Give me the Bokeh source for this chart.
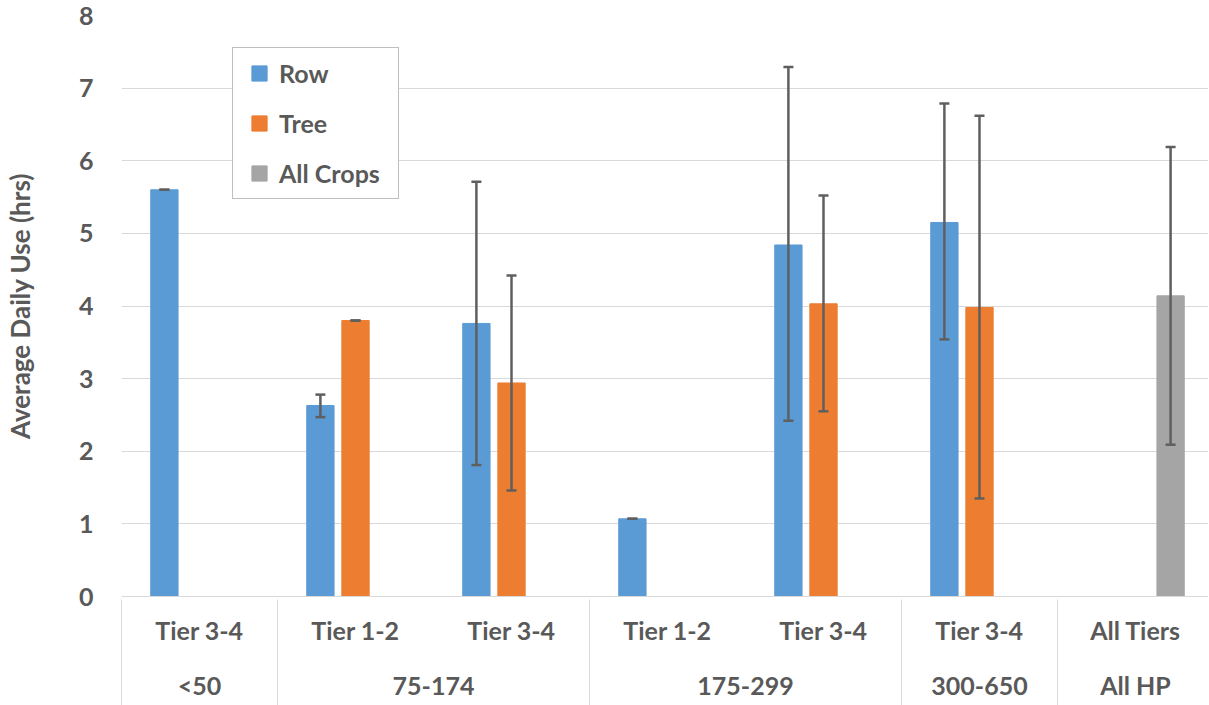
from bokeh.plotting import figure
from bokeh.models import (Range1d, LinearAxis, FixedTicker, ColumnDataSource,
                          Whisker, TeeHead, Legend, LegendItem)
from bokeh.embed import file_html
from bokeh.resources import INLINE

# ---------------- data ----------------
tiers = ["Tier 3-4", "Tier 1-2", "Tier 3-4", "Tier 1-2", "Tier 3-4", "Tier 3-4", "All Tiers"]
hp_groups = ["<50", "75-174", "175-299", "300-650", "All HP"]
group_sizes = [1, 2, 2, 1, 1]
y_ticks = [0, 1, 2, 3, 4, 5, 6, 7, 8]

series_names = ["Row", "Tree", "All Crops"]
row_mean = [5.60, 2.63, 3.76, 1.07, 4.84, 5.15, None]
row_low = [5.60, 2.47, 1.81, 1.07, 2.42, 3.54, None]
row_high = [5.60, 2.78, 5.71, 1.07, 7.29, 6.79, None]
tree_mean = [None, 3.80, 2.94, None, 4.03, 3.98, None]
tree_low = [None, 3.80, 1.46, None, 2.55, 1.35, None]
tree_high = [None, 3.80, 4.42, None, 5.52, 6.62, None]
all_mean = [None, None, None, None, None, None, 4.14]
all_low = [None, None, None, None, None, None, 2.09]
all_high = [None, None, None, None, None, None, 6.19]

colors = ["#5B9BD5", "#ED7D31", "#A5A5A5"]
offsets = [-0.225, 0.0, 0.225]
TXT = "#595959"
GRID = "#d9d9d9"
FONT = "Lato"

p = figure(frame_width=1087, frame_height=581,
           x_range=Range1d(0, 6.968), y_range=Range1d(0, 8),
           x_axis_location=None,
           output_backend="svg", toolbar_location=None,
           min_border_left=114, min_border_right=0,
           min_border_top=15, min_border_bottom=101)
p.outline_line_color = None
p.background_fill_color = "white"
p.border_fill_color = "white"
for g in p.grid:
    if g.dimension == 0:
        g.visible = False

# y axis
p.yaxis.ticker = FixedTicker(ticks=y_ticks)
p.yaxis.axis_line_color = None
p.yaxis.major_tick_line_color = None
p.yaxis.minor_tick_line_color = None
p.yaxis.major_tick_out = 0
p.yaxis.major_tick_in = 0
p.yaxis.major_label_standoff = 28
p.yaxis.major_label_text_font = FONT
p.yaxis.major_label_text_font_style = "bold"
p.yaxis.major_label_text_font_size = "25px"
p.yaxis.major_label_text_color = TXT
p.yaxis.axis_label = "Average Daily Use (hrs)"
p.yaxis.axis_label_text_font = FONT
p.yaxis.axis_label_text_font_style = "bold"
p.yaxis.axis_label_text_font_size = "26px"
p.yaxis.axis_label_text_color = TXT
p.yaxis.axis_label_standoff = 40
p.ygrid.grid_line_color = GRID
p.ygrid.grid_line_width = 1

# x axes (two levels)
n = len(tiers)
tier_pos = [i + 0.5 for i in range(n)]
bounds = [0]
for s in group_sizes:
    bounds.append(bounds[-1] + s)
group_pos = [(bounds[k] + bounds[k + 1]) / 2 for k in range(len(group_sizes))]
sep_pos = bounds[:-1]

ax1 = LinearAxis(ticker=FixedTicker(ticks=tier_pos, minor_ticks=[]),
                 major_label_overrides={t: lab for t, lab in zip(tier_pos, tiers)})
ax1.axis_line_color = GRID
ax1.axis_line_width = 1
ax1.major_tick_out = 0
ax1.major_tick_in = 0
ax1.minor_tick_out = 0
ax1.minor_tick_in = 0
ax1.major_tick_line_color = None
ax1.minor_tick_line_color = None
ax1.major_label_standoff = 18
ax1.major_label_text_font = FONT
ax1.major_label_text_font_style = "bold"
ax1.major_label_text_font_size = "25px"
ax1.major_label_text_color = TXT
p.add_layout(ax1, "below")

ax2 = LinearAxis(ticker=FixedTicker(ticks=group_pos, minor_ticks=[]),
                 major_label_overrides={t: lab for t, lab in zip(group_pos, hp_groups)})
ax2.axis_line_color = None
ax2.major_tick_line_color = None
ax2.minor_tick_line_color = None
ax2.major_tick_out = 0
ax2.major_tick_in = 0
ax2.minor_tick_out = 0
ax2.minor_tick_in = 0
ax2.major_label_standoff = 22
ax2.major_label_text_font = FONT
ax2.major_label_text_font_style = "bold"
ax2.major_label_text_font_size = "25px"
ax2.major_label_text_color = TXT
p.add_layout(ax2, "below")

# group separators: outermost axis whose ticks reach up to the baseline
ax3 = LinearAxis(ticker=FixedTicker(ticks=sep_pos, minor_ticks=[]),
                 major_label_overrides={t: " " for t in sep_pos})
ax3.axis_line_color = None
ax3.major_tick_line_color = GRID
ax3.major_tick_line_width = 1
ax3.major_tick_in = 103
ax3.major_tick_out = 10
ax3.minor_tick_line_color = None
ax3.minor_tick_in = 0
ax3.minor_tick_out = 0
ax3.major_label_standoff = 0
ax3.major_label_text_color = None
ax3.major_label_text_font_size = "1px"
p.add_layout(ax3, "below")

# bars + error bars
all_series = [(row_mean, row_low, row_high), (tree_mean, tree_low, tree_high),
              (all_mean, all_low, all_high)]
legend_items = []
for (name, (means, lows, highs), col, off) in zip(series_names, all_series, colors, offsets):
    xs, tops, lo, hi = [], [], [], []
    for i, (m, l, h) in enumerate(zip(means, lows, highs)):
        if m is None:
            continue
        xs.append(i + 0.5 + off)
        tops.append(m)
        lo.append(l)
        hi.append(h)
    src = ColumnDataSource(dict(x=xs, top=tops, lower=lo, upper=hi))
    p.vbar(x="x", top="top", bottom=0, width=0.175, source=src,
           fill_color=col, line_color=col, line_width=1)
    w = Whisker(base="x", upper="upper", lower="lower", source=src,
                dimension="height", line_color="#5f5f5f", line_width=2.5,
                upper_head=TeeHead(size=10, line_color="#5f5f5f", line_width=2.5),
                lower_head=TeeHead(size=10, line_color="#5f5f5f", line_width=2.5),
                level="annotation")
    p.add_layout(w)
    key = p.scatter(x="x", y="top", source=src, marker="square", size=15,
                    fill_color=col, line_color=col, visible=False)
    legend_items.append(LegendItem(label=name, renderers=[key]))

legend = Legend(items=legend_items, location=(111, 397),
                padding=6, spacing=12, glyph_width=40, glyph_height=38,
                label_height=38, label_width=113, label_standoff=0,
                label_text_font=FONT, label_text_font_style="bold",
                label_text_font_size="25px", label_text_color=TXT,
                border_line_color="#808080", border_line_width=1,
                background_fill_color="white", background_fill_alpha=1,
                inactive_fill_alpha=0)
p.add_layout(legend)

open("out.html", "w").write(file_html(p, INLINE))
